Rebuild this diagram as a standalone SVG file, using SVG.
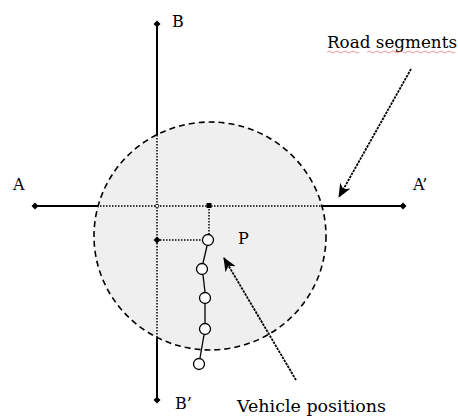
<svg xmlns="http://www.w3.org/2000/svg" width="458" height="416" viewBox="0 0 458 416">
<style>
.lbl{font-family:"DejaVu Serif","Liberation Serif",serif;font-size:16px;fill:#000}
.solid{stroke:#000;stroke-width:2;fill:none}
.dot{stroke:#000;stroke-width:1.5;stroke-dasharray:1.5 1.5;fill:none}
.veh{fill:#fff;stroke:#000;stroke-width:1.3}
.link{stroke:#000;stroke-width:1.3}
.arr{stroke:#000;stroke-width:1.8;stroke-dasharray:2.5 1;fill:none}
</style>
<defs>
<marker id="ah" markerWidth="14" markerHeight="14" refX="13" refY="7" orient="auto" markerUnits="userSpaceOnUse" viewBox="0 0 14 14">
<path d="M0,1 L14,7 L0,13 L4,7 Z" fill="#000"/>
</marker>
<path id="dia" d="M0,-3.5 L3.5,0 L0,3.5 L-3.5,0 Z" fill="#000"/>
</defs>
<rect width="458" height="416" fill="#fff"/>
<g id="circle">
<ellipse cx="210" cy="236" rx="116" ry="114" fill="#efefef" stroke="#000" stroke-width="1.6" stroke-dasharray="6 4"/>
</g>
<g id="connectors">
<line class="solid" x1="157" y1="24" x2="157" y2="135"/>
<line class="dot" x1="157" y1="135" x2="157" y2="338"/>
<line class="solid" x1="157" y1="338" x2="157" y2="400"/>
<line class="solid" x1="35" y1="206" x2="97" y2="206"/>
<line class="dot" x1="97" y1="206" x2="321" y2="206"/>
<line class="solid" x1="321" y1="206" x2="403" y2="206"/>
<line class="dot" x1="209" y1="206" x2="209" y2="234"/>
<line class="dot" x1="157" y1="240" x2="203" y2="240"/>
<line class="link" x1="207" y1="246" x2="203" y2="263"/>
<line class="link" x1="203" y1="275" x2="205" y2="292"/>
<line class="link" x1="205" y1="304" x2="205" y2="323"/>
<line class="link" x1="204" y1="335" x2="200" y2="358"/>
<line class="arr" x1="411" y1="69" x2="339" y2="197" marker-end="url(#ah)"/>
<line class="arr" x1="296" y1="380" x2="224" y2="258" marker-end="url(#ah)"/>
</g>
<g id="nodes">
<use href="#dia" x="157" y="24"/>
<use href="#dia" x="157" y="400"/>
<use href="#dia" x="35" y="206"/>
<use href="#dia" x="403" y="206"/>
<use href="#dia" x="157" y="240"/>
<circle cx="157" cy="206" r="1.8" fill="#fff" stroke="#000" stroke-width="0.8"/>
<rect x="206.5" y="203" width="5" height="5" fill="#000"/>
</g>
<g id="vehicles">
<circle class="veh" cx="208" cy="240" r="5.5"/>
<circle class="veh" cx="202" cy="269" r="5.5"/>
<circle class="veh" cx="205" cy="298" r="5.5"/>
<circle class="veh" cx="205" cy="329" r="5.5"/>
<circle class="veh" cx="199" cy="364" r="5.5"/>
</g>
<g id="labels">
<text class="lbl" x="172" y="27">B</text>
<text class="lbl" x="13" y="190">A</text>
<text class="lbl" x="413" y="190">A’</text>
<text class="lbl" x="238" y="244">P</text>
<text class="lbl" x="175" y="409">B’</text>
<text class="lbl" x="327" y="48" textLength="130" lengthAdjust="spacingAndGlyphs">Road segments</text>
<text class="lbl" x="237" y="412" textLength="149" lengthAdjust="spacingAndGlyphs">Vehicle positions</text>
<path d="M327,52 q2,-2 4,0 t4,0 t4,0 t4,0 t4,0 t4,0 t4,0 t4,0 M367,52 q2,-2 4,0 t4,0 t4,0 t4,0 t4,0 t4,0 t4,0 t4,0 t4,0 t4,0 t4,0 t4,0 t4,0 t4,0 t4,0 t4,0 t4,0 t4,0 t4,0 t4,0 t4,0 t4,0" fill="none" stroke="#d44" stroke-width="0.8" opacity="0.7"/>
</g>
</svg>
